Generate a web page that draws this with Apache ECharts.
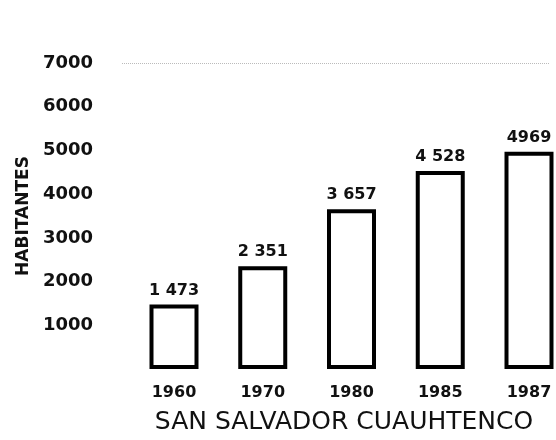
<!DOCTYPE html>
<html>
<head>
<meta charset="utf-8">
<script src="https://cdn.jsdelivr.net/npm/echarts@6/dist/echarts.min.js"></script>
<style>
  html, body { margin: 0; padding: 0; background: #fff; }
  #chart { width: 556px; height: 440px; }
</style>
</head>
<body>
<div id="chart"></div>
<script>
// Population of San Salvador Cuauhtenco by census year
const years = ['1960', '1970', '1980', '1985', '1987'];
const population = [1473, 2351, 3657, 4528, 4969];
const populationLabels = ['1 473', '2 351', '3 657', '4 528', '4969'];
const yTicks = [1000, 2000, 3000, 4000, 5000, 6000, 7000];
const yMax = 7000;
const yStep = 1000;
const yAxisName = 'HABITANTES';
const chartTitle = 'SAN SALVADOR CUAUHTENCO';

const FONT = '"DejaVu Sans", "Open Sans", sans-serif';
const chart = echarts.init(document.getElementById('chart'), null, { renderer: 'canvas' });

chart.setOption({
  backgroundColor: '#ffffff',
  animation: false,
  title: {
    text: chartTitle,
    left: 339,
    top: 405,
    textAlign: 'center',
    textStyle: { fontFamily: FONT, fontSize: 25, fontWeight: 'normal', color: '#111' }
  },
  // categories sit on the ticks, so the grid spans first to last bar centre
  grid: { left: 174, width: 355, top: 63, bottom: 71, containLabel: false },
  xAxis: {
    type: 'category',
    data: years,
    boundaryGap: false,
    axisLine: { show: false },
    axisTick: { show: false },
    axisLabel: {
      margin: 16,
      fontFamily: FONT,
      fontSize: 16,
      fontWeight: 'bold',
      color: '#111'
    }
  },
  yAxis: {
    type: 'value',
    min: 0,
    max: yMax,
    interval: yStep,
    name: yAxisName,
    nameLocation: 'middle',
    nameRotate: 90,
    nameGap: 141,
    nameTextStyle: { fontFamily: FONT, fontSize: 17, fontWeight: 'bold', color: '#111' },
    axisLine: { show: false },
    axisTick: { show: false },
    splitLine: { show: false },
    axisLabel: {
      align: 'left',
      margin: 131,
      fontFamily: FONT,
      fontSize: 18,
      fontWeight: 'bold',
      color: '#111',
      formatter: v => (yTicks.indexOf(v) >= 0 ? String(v) : '')
    }
  },
  series: [{
    type: 'bar',
    data: population,
    barWidth: 49,
    clip: false,
    itemStyle: { color: '#ffffff', borderColor: '#000', borderWidth: 4 },
    label: {
      show: true,
      position: 'top',
      distance: 6,
      fontFamily: FONT,
      fontSize: 16,
      fontWeight: 'bold',
      color: '#111',
      formatter: p => populationLabels[p.dataIndex]
    },
    markLine: {
      silent: true,
      symbol: 'none',
      label: { show: false },
      lineStyle: { color: '#bbb', type: 'dotted', width: 1 },
      data: [
        [{ coord: [0, yMax], x: 122 }, { coord: [4, yMax], x: 550 }]
      ]
    }
  }]
});
</script>
</body>
</html>
